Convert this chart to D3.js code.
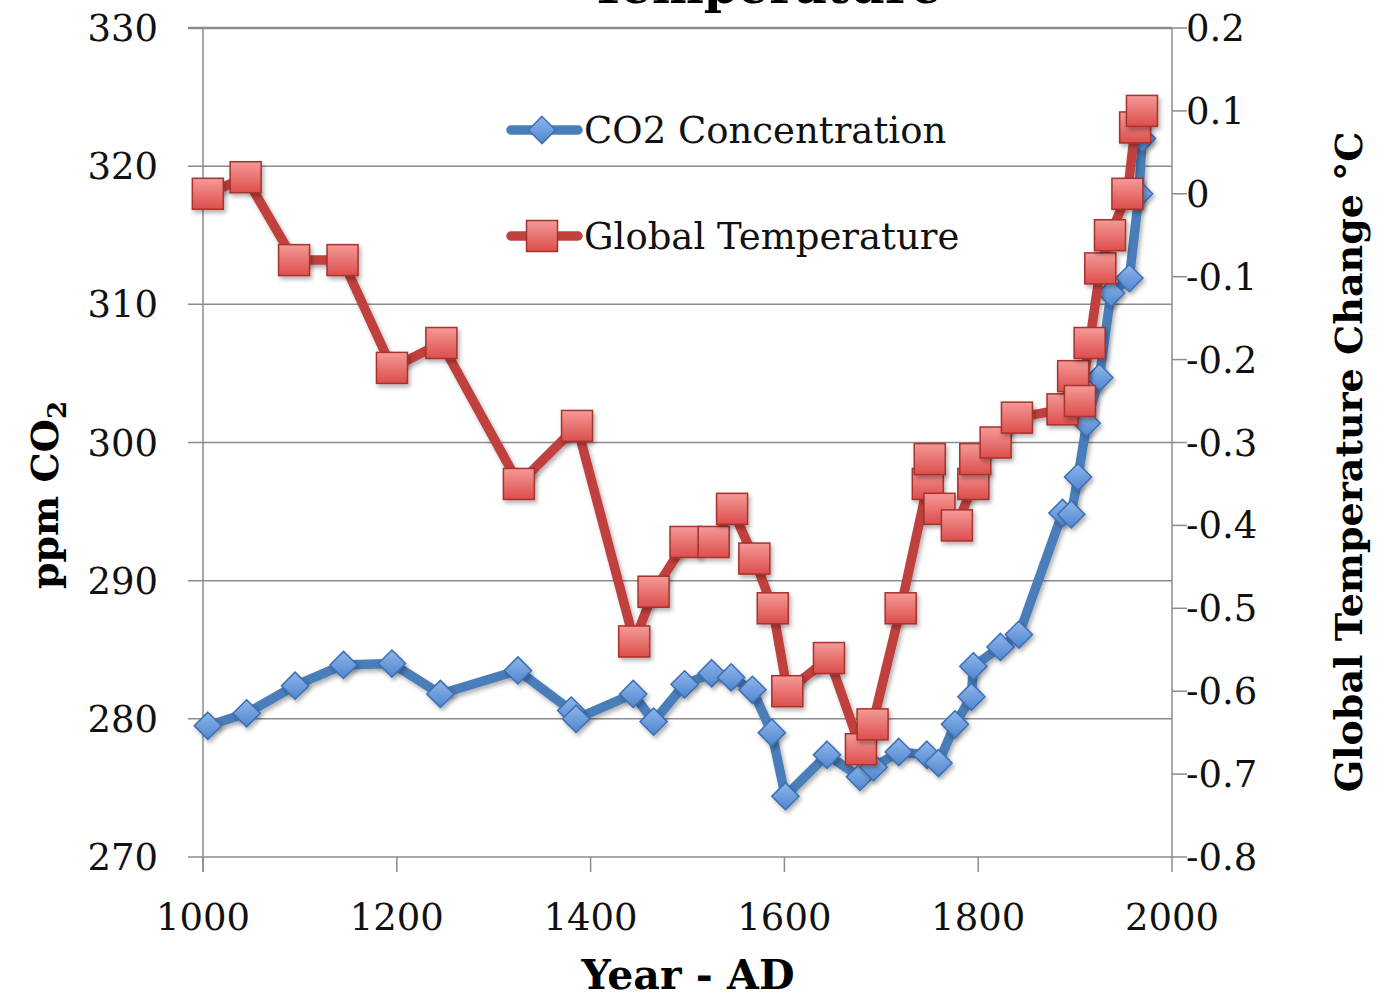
<!DOCTYPE html>
<html><head><meta charset="utf-8">
<script src="https://cdn.jsdelivr.net/npm/d3@7"></script>
<style>body{margin:0;background:#fff}svg{display:block}</style>
</head><body>
<script>
// ---- data ----
const co2Years  = [1005,1045,1095,1145,1195,1245,1325,1380,1385,1444,1465,1497,1525,1545,1567,1587,1601,1644,1678,1692,1718,1747,1759,1776,1793,1795,1823,1842,1887,1896,1903,1912,1925,1937,1956,1966,1969];
const co2Values = [279.5,280.4,282.4,283.9,284.0,281.8,283.5,280.6,280.0,281.8,279.8,282.5,283.3,283.0,282.1,279.0,274.4,277.4,275.8,276.5,277.6,277.4,276.8,279.6,281.6,283.8,285.2,286.1,294.9,294.8,297.5,301.4,304.7,310.8,311.9,318.0,322.0];
const tempYears  = [1005,1044,1094,1144,1195,1246,1326,1386,1445,1465,1498,1527,1546,1569,1588,1603,1646,1679,1691,1720,1748,1750,1760,1778,1795,1797,1818,1840,1887,1898,1905,1915,1926,1936,1954,1962,1969];
const tempValues = [0.0,0.02,-0.08,-0.08,-0.21,-0.18,-0.35,-0.28,-0.54,-0.48,-0.42,-0.42,-0.38,-0.44,-0.50,-0.60,-0.56,-0.67,-0.64,-0.50,-0.35,-0.32,-0.38,-0.40,-0.35,-0.32,-0.30,-0.27,-0.26,-0.22,-0.25,-0.18,-0.09,-0.05,0.0,0.08,0.10];
const xTicks = [1000,1200,1400,1600,1800,2000];
const leftTicks = [270,280,290,300,310,320,330];
const rightTicks = [-0.8,-0.7,-0.6,-0.5,-0.4,-0.3,-0.2,-0.1,0,0.1,0.2];
const rightTickLabels = ["-0.8","-0.7","-0.6","-0.5","-0.4","-0.3","-0.2","-0.1","0","0.1","0.2"];
const seriesNames = ["CO2 Concentration","Global Temperature"];

const W=1390,H=1000;
const L=203,R=1172,T=28,B=857;
const FONT="'DejaVu Serif', serif";
const svg=d3.select("body").append("svg").attr("width",W).attr("height",H);

const defs=svg.append("defs");
const gb=defs.append("linearGradient").attr("id","gb").attr("x1",0).attr("y1",0).attr("x2",0).attr("y2",1);
gb.append("stop").attr("offset","0%").attr("stop-color","#8fb6ea");
gb.append("stop").attr("offset","100%").attr("stop-color","#4f86d0");
const gr=defs.append("linearGradient").attr("id","gr").attr("x1",0).attr("y1",0).attr("x2",0).attr("y2",1);
gr.append("stop").attr("offset","0%").attr("stop-color","#f49a98");
gr.append("stop").attr("offset","100%").attr("stop-color","#dc4e4b");
const sh=defs.append("filter").attr("id","sh").attr("x","-30%").attr("y","-30%").attr("width","170%").attr("height","170%");
sh.append("feDropShadow").attr("dx",2).attr("dy",3).attr("stdDeviation",2).attr("flood-color","#000").attr("flood-opacity",0.3);

const x=d3.scaleLinear().domain([1000,2000]).range([L,R]);
const yL=d3.scaleLinear().domain([270,330]).range([B,T]);
const yR=d3.scaleLinear().domain([-0.8,0.2]).range([B,T]);

// title (cut off at top, as in the reference)
svg.append("text").attr("x",766).attr("y",3).attr("text-anchor","middle")
  .attr("font-family",FONT).attr("font-weight","bold").attr("font-size",49).text("Temperature");

// gridlines
svg.append("g").selectAll("line").data(leftTicks).join("line")
  .attr("x1",L-15).attr("x2",R).attr("y1",d=>yL(d)).attr("y2",d=>yL(d))
  .attr("stroke","#8c8c8c").attr("stroke-width",d=>d===330?2.5:1.5);

svg.append("line").attr("x1",L).attr("x2",L).attr("y1",T).attr("y2",B+15).attr("stroke","#8c8c8c").attr("stroke-width",1.5);
svg.append("line").attr("x1",R).attr("x2",R).attr("y1",T).attr("y2",B).attr("stroke","#8c8c8c").attr("stroke-width",1.5);
svg.append("g").selectAll("line").data(rightTicks).join("line")
  .attr("x1",R).attr("x2",R+15).attr("y1",d=>yR(d)).attr("y2",d=>yR(d))
  .attr("stroke","#8c8c8c").attr("stroke-width",1.5);
svg.append("g").selectAll("line").data(xTicks).join("line")
  .attr("x1",d=>x(d)).attr("x2",d=>x(d)).attr("y1",B).attr("y2",B+15)
  .attr("stroke","#8c8c8c").attr("stroke-width",1.5);

// tick labels
svg.append("g").selectAll("text").data(leftTicks).join("text")
  .attr("x",158).attr("y",d=>yL(d)+13).attr("text-anchor","end")
  .attr("font-family",FONT).attr("font-size",37).attr("fill","#111").text(d=>d);
svg.append("g").selectAll("text").data(rightTicks).join("text")
  .attr("x",1186).attr("y",d=>yR(d)+13).attr("text-anchor","start")
  .attr("font-family",FONT).attr("font-size",37).attr("fill","#111").text((d,i)=>rightTickLabels[i]);
svg.append("g").selectAll("text").data(xTicks).join("text")
  .attr("x",d=>x(d)).attr("y",930).attr("text-anchor","middle")
  .attr("font-family",FONT).attr("font-size",37).attr("fill","#111").text(d=>d);

// axis titles
svg.append("text").attr("x",688).attr("y",989).attr("text-anchor","middle")
  .attr("font-family",FONT).attr("font-weight","bold").attr("font-size",41).text("Year - AD");
const lt=svg.append("text").attr("transform","translate(58,495) rotate(-90)").attr("text-anchor","middle")
  .attr("font-family",FONT).attr("font-weight","bold").attr("font-size",38);
lt.append("tspan").text("ppm CO");
lt.append("tspan").attr("font-size",26).attr("dy",8).text("2");
svg.append("text").attr("transform","translate(1362,462) rotate(-90)").attr("text-anchor","middle")
  .attr("font-family",FONT).attr("font-weight","bold").attr("font-size",38).text("Global Temperature Change °C");

// series
const co2=co2Years.map((d,i)=>({x:d,y:co2Values[i]}));
const tmp=tempYears.map((d,i)=>({x:d,y:tempValues[i]}));
const blue="#4a7ebb", red="#c0413e";
const diamond=d3.symbol().type(d3.symbolDiamond2).size(470);

svg.append("path").datum(co2).attr("fill","none").attr("stroke",blue).attr("stroke-width",9.5)
  .attr("stroke-linejoin","round").attr("filter","url(#sh)")
  .attr("d",d3.line().x(d=>x(d.x)).y(d=>yL(d.y)));
svg.append("g").selectAll("path").data(co2).join("path")
  .attr("transform",d=>`translate(${x(d.x)},${yL(d.y)})`).attr("d",diamond)
  .attr("fill","url(#gb)").attr("stroke","#3d6fb3").attr("stroke-width",1.5).attr("filter","url(#sh)");

svg.append("path").datum(tmp).attr("fill","none").attr("stroke",red).attr("stroke-width",9.5)
  .attr("stroke-linejoin","round").attr("filter","url(#sh)")
  .attr("d",d3.line().x(d=>x(d.x)).y(d=>yR(d.y)));
svg.append("g").selectAll("rect").data(tmp).join("rect")
  .attr("x",d=>x(d.x)-15.5).attr("y",d=>yR(d.y)-15.5).attr("width",31).attr("height",31)
  .attr("fill","url(#gr)").attr("stroke","#a8302d").attr("stroke-width",1.5).attr("filter","url(#sh)");

// legend
const lg=svg.append("g");
[0,1].forEach(i=>{
  const cy=i===0?130:236;
  lg.append("line").attr("x1",511).attr("x2",578).attr("y1",cy).attr("y2",cy)
    .attr("stroke",i===0?blue:red).attr("stroke-width",9.5).attr("stroke-linecap","round");
  if(i===0) lg.append("path").attr("transform",`translate(542,${cy})`).attr("d",diamond)
    .attr("fill","url(#gb)").attr("stroke","#3d6fb3").attr("stroke-width",1.5);
  else lg.append("rect").attr("x",526.5).attr("y",cy-15.5).attr("width",31).attr("height",31)
    .attr("fill","url(#gr)").attr("stroke","#a8302d").attr("stroke-width",1.5);
  lg.append("text").attr("x",584).attr("y",cy+13).attr("font-family",FONT).attr("font-size",37)
    .attr("fill","#111").text(seriesNames[i]);
});
</script>
</body></html>
